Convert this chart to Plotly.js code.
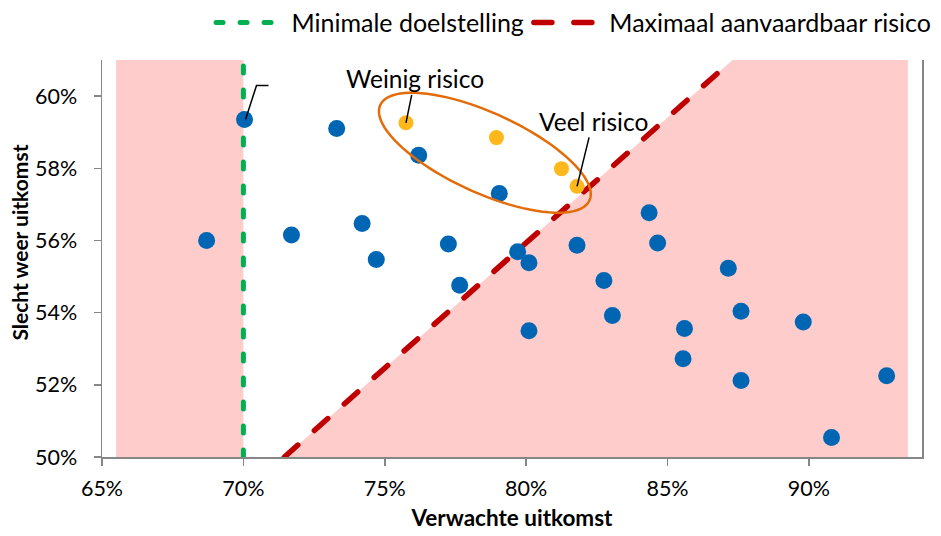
<!DOCTYPE html>
<html>
<head>
<meta charset="utf-8">
<script src="https://cdn.plot.ly/plotly-3.0.1.min.js"></script>
<style>
  html, body { margin: 0; padding: 0; background: #fff; }
  #chart { width: 941px; height: 536px; }
  /* rounded dash ends for the two threshold lines */
  .js-line { stroke-linecap: round; }
</style>
</head>
<body>
<div id="chart"></div>
<script>
// Scenario results: expected outcome (x) versus bad-weather outcome (y)
const blueX = [0.687, 0.7004, 0.733, 0.717, 0.742, 0.747, 0.762, 0.7725, 0.7765, 0.7905,
               0.797, 0.801, 0.801, 0.818, 0.8275, 0.8305, 0.8435, 0.8465, 0.856, 0.8555,
               0.8715, 0.876, 0.876, 0.898, 0.908, 0.9275];
const blueY = [0.5600, 0.5935, 0.5910, 0.5615, 0.5647, 0.5547, 0.5836, 0.5590, 0.5476, 0.5730,
               0.5569, 0.5538, 0.5350, 0.5587, 0.5489, 0.5392, 0.5677, 0.5593, 0.5356, 0.5272,
               0.5523, 0.5404, 0.5212, 0.5374, 0.5054, 0.5225];

// Highlighted scenarios along the efficient edge
const goldX = [0.7575, 0.7895, 0.8125, 0.818];
const goldY = [0.5926, 0.5885, 0.5799, 0.5750];

// Threshold lines
const targetX = [0.70, 0.70];
const targetY = [0.50, 0.61];
const riskX = [0.7145, 0.873];
const riskY = [0.50, 0.61];

// Shaded zones outside the acceptable region
const leftZoneX = [0.655, 0.70, 0.70, 0.655];
const leftZoneY = [0.50, 0.50, 0.61, 0.61];
const rightZoneX = [riskX[0], riskX[1], 0.935, 0.935];
const rightZoneY = [riskY[0], riskY[1], 0.61, 0.50];

const PINK = '#FFCCCC';
const BLUE = '#0066B3';
const GOLD = '#FFB81C';
const GREEN = '#00B050';
const RED = '#C00000';
const ORANGE = '#E36C09';
const FONT = 'Lato, "Open Sans", sans-serif';
const NBSP = '\u00A0';

const traces = [
  { x: leftZoneX, y: leftZoneY, type: 'scatter', mode: 'none', fill: 'toself',
    fillcolor: PINK, showlegend: false, hoverinfo: 'skip' },
  { x: rightZoneX, y: rightZoneY, type: 'scatter', mode: 'none', fill: 'toself',
    fillcolor: PINK, showlegend: false, hoverinfo: 'skip' },
  { x: targetX, y: targetY, type: 'scatter', mode: 'lines', name: NBSP + 'Minimale doelstelling',
    line: { color: GREEN, width: 5, dash: '7px,17px' } },
  { x: riskX, y: riskY, type: 'scatter', mode: 'lines', name: NBSP + 'Maximaal aanvaardbaar risico',
    line: { color: RED, width: 5.5, dash: '18px,22px' } },
  { x: blueX, y: blueY, type: 'scatter', mode: 'markers', showlegend: false,
    marker: { color: BLUE, size: 17 } },
  { x: goldX, y: goldY, type: 'scatter', mode: 'markers', showlegend: false,
    marker: { color: GOLD, size: 15 } }
];

// Ellipse around the highlighted group, in pixels around its centre
const ell = { a: 115, b: 40, theta: 24.5 * Math.PI / 180, cx: 0.7854, cy: 0.5843 };
let ellPath = '';
for (let i = 0; i <= 90; i++) {
  const t = 2 * Math.PI * i / 90;
  const dx = ell.a * Math.cos(t) * Math.cos(ell.theta) - ell.b * Math.sin(t) * Math.sin(ell.theta);
  const dy = ell.a * Math.cos(t) * Math.sin(ell.theta) + ell.b * Math.sin(t) * Math.cos(ell.theta);
  ellPath += (i === 0 ? 'M' : 'L') + dx.toFixed(2) + ',' + (-dy).toFixed(2);
}
ellPath += 'Z';

const layout = {
  width: 941, height: 536,
  margin: { l: 102, r: 19, t: 60, b: 79, autoexpand: false },
  paper_bgcolor: '#fff', plot_bgcolor: '#fff',
  font: { family: FONT, size: 21, color: '#000' },
  showlegend: true,
  legend: {
    orientation: 'h', x: 0.133, y: 1.094, xanchor: 'left', yanchor: 'middle',
    itemwidth: 64, font: { family: FONT, size: 25, color: '#000' },
    bgcolor: 'rgba(0,0,0,0)'
  },
  xaxis: {
    range: [0.65, 0.94], dtick: 0.05, tick0: 0.65, tickformat: '.0%',
    showgrid: false, zeroline: false,
    showline: true, linecolor: '#868686', linewidth: 1.5,
    ticks: 'outside', ticklen: 7, tickwidth: 1.5, tickcolor: '#868686',
    ticklabelstandoff: 5,
    tickfont: { family: FONT, size: 21.5, color: '#000' },
    title: { text: 'Verwachte uitkomst', standoff: 10,
             font: { family: FONT, size: 22.5, color: '#000', weight: 700 } }
  },
  yaxis: {
    range: [0.50, 0.61], dtick: 0.02, tick0: 0.50, tickformat: '.0%',
    showgrid: false, zeroline: false,
    showline: true, mirror: true, linecolor: '#868686', linewidth: 1.5,
    ticks: 'outside', ticklen: 7, tickwidth: 1.5, tickcolor: '#868686',
    ticklabelstandoff: 12,
    tickfont: { family: FONT, size: 21.5, color: '#000' }
  },
  shapes: [
    { type: 'path', xref: 'x', yref: 'y', xsizemode: 'pixel', ysizemode: 'pixel',
      xanchor: ell.cx, yanchor: ell.cy, path: ellPath,
      line: { color: ORANGE, width: 2.5 }, fillcolor: 'rgba(0,0,0,0)' },
    { type: 'path', xref: 'x', yref: 'y', xsizemode: 'pixel', ysizemode: 'pixel',
      xanchor: blueX[1], yanchor: blueY[1], path: 'M1,0L12,34L24,34',
      line: { color: '#000', width: 1.5 } }
  ],
  annotations: [
    { x: goldX[0], y: goldY[0], xref: 'x', yref: 'y', text: 'Weinig risico',
      showarrow: true, arrowhead: 0, arrowwidth: 1.5, arrowcolor: '#000',
      ax: 9, ay: -44, standoff: 0, font: { family: FONT, size: 24.5, color: '#000' } },
    { x: goldX[3], y: goldY[3], xref: 'x', yref: 'y', text: 'Veel risico',
      showarrow: true, arrowhead: 0, arrowwidth: 1.5, arrowcolor: '#000',
      ax: 16, ay: -65, standoff: 0, font: { family: FONT, size: 24.5, color: '#000' } },
    { x: -0.1, y: 0.54, xref: 'paper', yref: 'paper', text: 'Slecht weer uitkomst',
      showarrow: false, textangle: -90, xanchor: 'center', yanchor: 'middle',
      font: { family: FONT, size: 21, color: '#000', weight: 700 } }
  ]
};

Plotly.newPlot('chart', traces, layout, { displayModeBar: false, staticPlot: true });
</script>
</body>
</html>
